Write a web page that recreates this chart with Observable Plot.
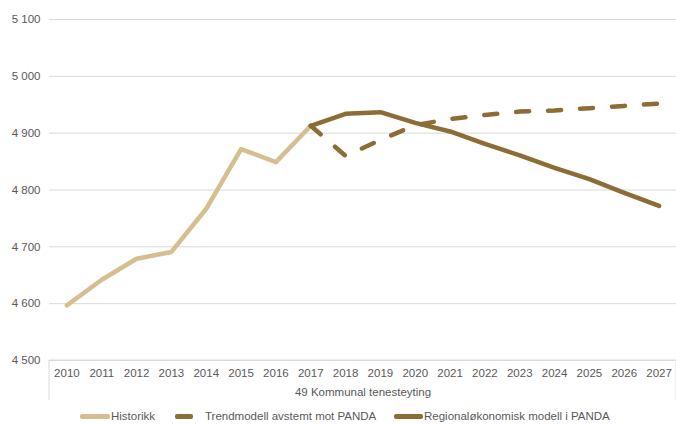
<!DOCTYPE html>
<html><head><meta charset="utf-8">
<script src="https://cdn.jsdelivr.net/npm/d3@7"></script>
<script src="https://cdn.jsdelivr.net/npm/@observablehq/plot@0.6"></script>
<style>
body{margin:0;background:#fff;font-family:"Liberation Sans",Arial,sans-serif;}
#wrap{position:relative;width:676px;height:424px;}
.leg{position:absolute;top:410px;font-size:11.5px;color:#595959;white-space:nowrap;}
.sw{position:absolute;top:414px;height:4.5px;border-radius:2px;}
</style></head><body>
<div id="wrap"></div>
<script>
const years = ["2010","2011","2012","2013","2014","2015","2016","2017","2018","2019","2020","2021","2022","2023","2024","2025","2026","2027"];
const historikkYears = ["2010","2011","2012","2013","2014","2015","2016","2017"];
const historikk = [4597, 4642, 4679, 4691, 4767, 4872, 4849, 4913];
const modelYears = ["2017","2018","2019","2020","2021","2022","2023","2024","2025","2026","2027"];
const trend = [4913, 4860, 4888, 4914, 4925, 4932, 4938, 4940, 4944, 4948, 4952];
const regional = [4913, 4934, 4937, 4918, 4903, 4881, 4861, 4839, 4819, 4795, 4772];
const yTicks = [4500, 4600, 4700, 4800, 4900, 5000, 5100];
const seriesNames = ["Historikk", "Trendmodell avstemt mot PANDA", "Regionaløkonomisk modell i PANDA"];
const groupLabel = "49 Kommunal tenesteyting";
const colLight = "#d5bf90", colDark = "#8b6d35";

const hist = historikkYears.map((y,i)=>({year:y, value:historikk[i]}));
const tr = modelYears.map((y,i)=>({year:y, value:trend[i]}));
const rg = modelYears.map((y,i)=>({year:y, value:regional[i]}));
const fmt = d => d3.format(",")(d).replace(/,/g, " ");

const plot = Plot.plot({
  width: 676, height: 400,
  marginLeft: 49, marginRight: 0, marginTop: 19, marginBottom: 40,
  style: {fontFamily: '"Liberation Sans",Arial,sans-serif', fontSize: "11.5px", color: "#595959", background: "#fff"},
  x: {type: "point", domain: years, padding: 0.5, round: false, label: null},
  y: {domain: [4500, 5100], ticks: yTicks, label: null},
  marks: [
    Plot.gridY(yTicks, {stroke: "#d9d9d9", strokeOpacity: 1, strokeWidth: 1}),
    Plot.axisY(yTicks, {tickSize: 0, tickPadding: 9, tickFormat: fmt, fill: "#595959", label: null}),
    Plot.axisX({tickSize: 0, tickPadding: 8, fill: "#595959", label: null}),
    Plot.text([groupLabel], {frameAnchor: "bottom", dy: 35, text: d => d, fill: "#595959"}),
    Plot.line(hist, {x: "year", y: "value", stroke: colLight, strokeWidth: 4.5, strokeLinejoin: "round"}),
    Plot.line(tr, {x: "year", y: "value", stroke: colDark, strokeWidth: 4.5, strokeDasharray: "13,19", strokeLinecap: "round"}),
    Plot.line(rg, {x: "year", y: "value", stroke: colDark, strokeWidth: 4.5, strokeLinejoin: "round"})
  ]
});
document.getElementById("wrap").appendChild(plot);

// group box lines below the axis
const svg = d3.select(plot);
const yb = plot.scale("y").apply(4500);
const xr = plot.scale("x").range;
svg.append("g").selectAll("line").data([xr[0], xr[1]]).join("line")
  .attr("x1", d=>d).attr("x2", d=>d).attr("y1", yb).attr("y2", yb+40)
  .attr("stroke", "#d9d9d9");
svg.append("line").attr("x1", xr[0]).attr("x2", xr[1]).attr("y1", yb).attr("y2", yb).attr("stroke", "#d9d9d9");

// legend
const wrap = document.getElementById("wrap");
const legend = [
  {name: seriesNames[0], color: colLight, sx: 80, sw: 30, tx: 111},
  {name: seriesNames[1], color: colDark, sx: 175, sw: 18, tx: 205},
  {name: seriesNames[2], color: colDark, sx: 394, sw: 29, tx: 424}
];
for (const l of legend) {
  const s = document.createElement("div");
  s.className = "sw"; s.style.left = l.sx + "px"; s.style.width = l.sw + "px"; s.style.background = l.color;
  wrap.appendChild(s);
  const t = document.createElement("div");
  t.className = "leg"; t.style.left = l.tx + "px"; t.textContent = l.name;
  wrap.appendChild(t);
}
</script>
</body></html>
